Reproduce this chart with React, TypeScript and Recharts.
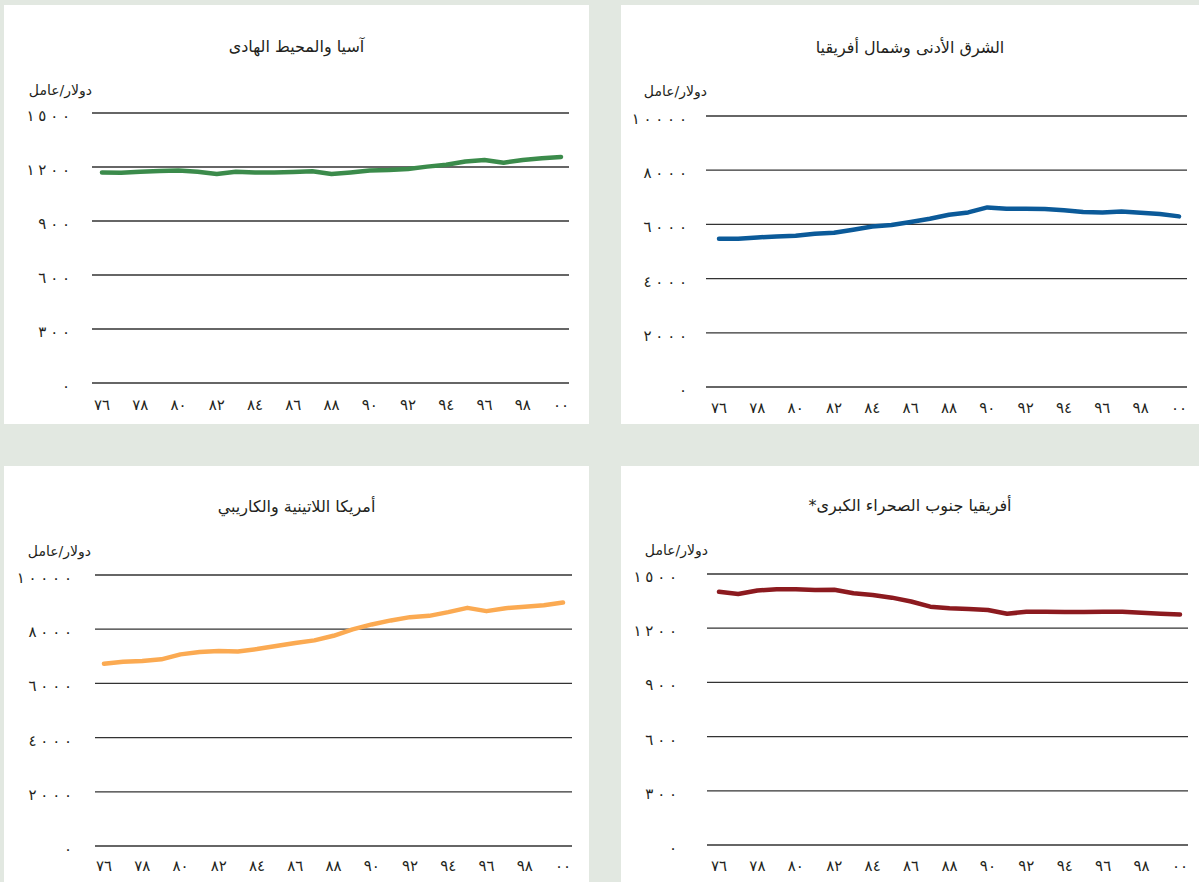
import { LineChart, Line, XAxis, YAxis, CartesianGrid } from "recharts";

const years = ["٧٦", "٧٧", "٧٨", "٧٩", "٨٠", "٨١", "٨٢", "٨٣", "٨٤", "٨٥", "٨٦", "٨٧", "٨٨", "٨٩", "٩٠", "٩١", "٩٢", "٩٣", "٩٤", "٩٥", "٩٦", "٩٧", "٩٨", "٩٩", "٠٠"];

const asiaPacific = [1170, 1168, 1174, 1178, 1181, 1174, 1161, 1174, 1170, 1170, 1172, 1176, 1161, 1170, 1180, 1183, 1189, 1202, 1213, 1231, 1239, 1224, 1239, 1248, 1256];
const nearEastNorthAfrica = [5470, 5470, 5520, 5556, 5580, 5655, 5692, 5803, 5925, 5975, 6087, 6210, 6357, 6443, 6628, 6579, 6579, 6567, 6518, 6456, 6443, 6480, 6430, 6382, 6296];
const latinAmerica = [6725, 6799, 6825, 6887, 7071, 7156, 7193, 7181, 7267, 7377, 7488, 7587, 7757, 7992, 8176, 8324, 8445, 8493, 8629, 8788, 8666, 8776, 8825, 8887, 8986];
const subSaharan = [1402, 1389, 1409, 1415, 1415, 1411, 1413, 1393, 1384, 1369, 1348, 1319, 1310, 1306, 1301, 1280, 1291, 1291, 1290, 1290, 1291, 1291, 1286, 1280, 1276];

const ticksLow = [0, 300, 600, 900, 1200, 1500];
const ticksHigh = [0, 2000, 4000, 6000, 8000, 10000];

const unitLabel = "دولار/عامل";

// chrome ignores letter-spacing on arabic digits, so space them by hand
const toArabic = (n: number) =>
  String(n)
    .split("")
    .map((d) => "٠١٢٣٤٥٦٧٨٩"[+d])
    .join("\u2005");

// page coordinates for each panel
type Layout = {
  box: [number, number, number, number];
  gridLeft: number; gridRight: number; gridTop: number; gridBottom: number;
  lineStart: number; lineEnd: number;
  yLabelRight: number; xLabelY: number;
  titleY: number; unitRight: number; unitY: number;
};

const layouts: Layout[] = [
  { box: [4, 5, 585, 419], gridLeft: 92, gridRight: 569, gridTop: 113, gridBottom: 383, lineStart: 102, lineEnd: 561, yLabelRight: 70, xLabelY: 405, titleY: 47, unitRight: 92, unitY: 90 },
  { box: [621, 5, 578, 419], gridLeft: 706, gridRight: 1187, gridTop: 116, gridBottom: 387, lineStart: 719, lineEnd: 1179, yLabelRight: 687, xLabelY: 408, titleY: 48, unitRight: 707, unitY: 91 },
  { box: [4, 466, 585, 416], gridLeft: 95, gridRight: 572, gridTop: 575, gridBottom: 846, lineStart: 104, lineEnd: 563, yLabelRight: 72, xLabelY: 866, titleY: 507, unitRight: 91, unitY: 551 },
  { box: [621, 466, 578, 416], gridLeft: 707, gridRight: 1188, gridTop: 574, gridBottom: 845, lineStart: 719, lineEnd: 1180, yLabelRight: 677, xLabelY: 866, titleY: 506, unitRight: 708, unitY: 550 },
];

const XTick = (props: any) => {
  const { x, y, payload } = props;
  return (
    <text x={x} y={y} textAnchor="middle" dominantBaseline="central" fontSize={15} fill="#231f20">
      {payload.value}
    </text>
  );
};

const YTick = (props: any) => {
  const { x, y, payload } = props;
  return (
    <text
      x={x}
      y={y + 3}
      textAnchor="end"
      dominantBaseline="central"
      fontSize={15}
      fill="#231f20"
      style={{ direction: "ltr", unicodeBidi: "bidi-override" }}
    >
      {toArabic(payload.value)}
    </text>
  );
};

interface PanelProps {
  layout: Layout;
  title: string;
  values: number[];
  ticks: number[];
  color: string;
}

const Panel = ({ layout, title, values, ticks, color }: PanelProps) => {
  const [px, py, pw, ph] = layout.box;
  const data = years.map((year, i) => ({ year, value: values[i] }));
  return (
    <div style={{ position: "absolute", left: px, top: py, width: pw, height: ph, background: "#fff" }}>
      <div style={{ position: "absolute", left: 0, top: 0 }}>
        <LineChart
          width={pw}
          height={ph}
          data={data}
          margin={{ top: layout.gridTop - py, right: px + pw - layout.gridRight, left: 0, bottom: 0 }}
        >
          <CartesianGrid vertical={false} stroke="#333" strokeWidth={1.3} />
          <XAxis
            dataKey="year"
            interval={1}
            axisLine={false}
            tickLine={false}
            tickSize={0}
            tickMargin={layout.xLabelY - layout.gridBottom}
            height={py + ph - layout.gridBottom}
            padding={{ left: layout.lineStart - layout.gridLeft, right: layout.gridRight - layout.lineEnd }}
            tick={XTick}
          />
          <YAxis
            domain={[0, ticks[ticks.length - 1]]}
            ticks={ticks}
            interval={0}
            axisLine={false}
            tickLine={false}
            tickSize={0}
            tickMargin={layout.gridLeft - layout.yLabelRight}
            width={layout.gridLeft - px}
            tick={YTick}
          />
          <Line
            type="linear"
            dataKey="value"
            stroke={color}
            strokeWidth={4.5}
            strokeLinecap="round"
            strokeLinejoin="round"
            dot={false}
            isAnimationActive={false}
          />
        </LineChart>
      </div>
      <div
        style={{
          position: "absolute", left: 0, width: pw, top: layout.titleY - py - 12,
          textAlign: "center", direction: "rtl", fontSize: 16, lineHeight: "24px", color: "#231f20",
        }}
      >
        {title}
      </div>
      <div
        style={{
          position: "absolute", right: pw - (layout.unitRight - px), top: layout.unitY - py - 10,
          direction: "rtl", fontSize: 14, lineHeight: "20px", color: "#231f20", whiteSpace: "nowrap",
        }}
      >
        {unitLabel}
      </div>
    </div>
  );
};

export default function App() {
  return (
    <div
      style={{
        position: "absolute", left: 0, top: 0, width: 1199, height: 882,
        background: "#e2e8e1", fontFamily: "'DejaVu Sans', sans-serif", overflow: "hidden",
      }}
    >
      <Panel layout={layouts[0]} title="آسيا والمحيط الهادى" values={asiaPacific} ticks={ticksLow} color="#3b8b4b" />
      <Panel layout={layouts[1]} title="الشرق الأدنى وشمال أفريقيا" values={nearEastNorthAfrica} ticks={ticksHigh} color="#0b5a99" />
      <Panel layout={layouts[2]} title="أمريكا اللاتينية والكاريبي" values={latinAmerica} ticks={ticksHigh} color="#fbaa52" />
      <Panel layout={layouts[3]} title="أفريقيا جنوب الصحراء الكبرى*" values={subSaharan} ticks={ticksLow} color="#8c1a1f" />
    </div>
  );
}
